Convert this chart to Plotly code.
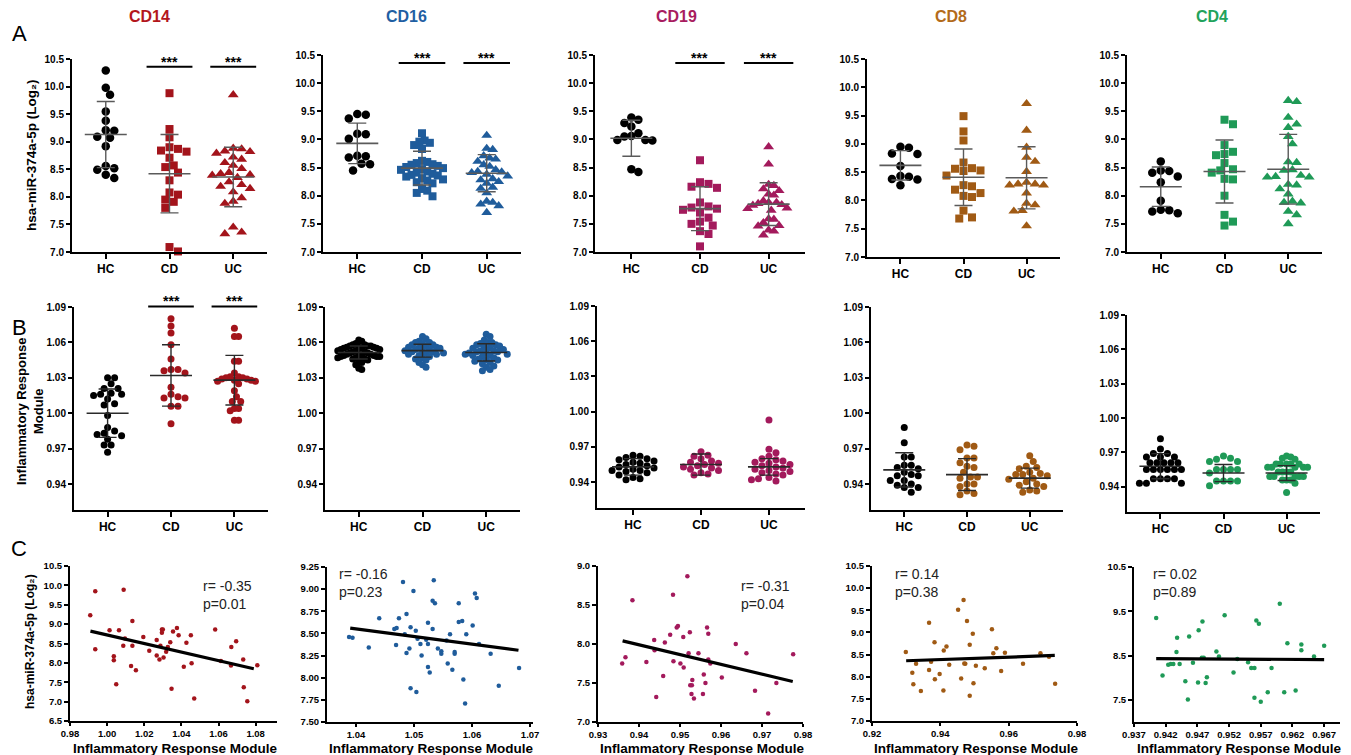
import numpy as np
import plotly.graph_objects as go

W, H = 1351, 755

cells = ["CD14", "CD16", "CD19", "CD8", "CD4"]
groups = ["HC", "CD", "UC"]
cell_colors = {"CD14": "#A3141B", "CD16": "#1F5C9B", "CD19": "#A31A5C", "CD8": "#A05A14", "CD4": "#1F9A57"}
title_colors = {"CD14": "#B3161C", "CD16": "#1F5FA3", "CD19": "#A81C60", "CD8": "#B36B1A", "CD4": "#22A35C"}

# ---------------- Row A : hsa-miR-374a-5p (Log2) ----------------
A_CD14_HC = [10.29, 9.98, 9.85, 9.55, 9.38, 9.21, 9.20, 9.09, 9.07, 8.92, 8.56, 8.52, 8.49, 8.40, 8.34]
A_CD14_CD = [9.88, 9.23, 9.08, 8.90, 8.87, 8.84, 8.82, 8.71, 8.57, 8.54, 8.44, 8.30, 8.08, 8.04, 7.95, 7.91, 7.80, 7.09, 7.01]
A_CD14_UC = [9.85, 8.88, 8.87, 8.83, 8.82, 8.79, 8.72, 8.68, 8.62, 8.57, 8.51, 8.44, 8.42, 8.40, 8.39, 8.35, 8.27,
             8.22, 8.19, 8.15, 8.09, 7.98, 7.92, 7.88, 7.45, 7.36, 7.33]
A_CD16_HC = [9.45, 9.44, 9.37, 9.10, 9.09, 9.01, 8.71, 8.70, 8.68, 8.57, 8.56, 8.45]
A_CD16_CD = [9.11, 8.98, 8.96, 8.94, 8.90, 8.83, 8.62, 8.60, 8.58, 8.56, 8.55, 8.53, 8.51, 8.49, 8.47, 8.46, 8.43,
             8.41, 8.39, 8.37, 8.36, 8.34, 8.31, 8.29, 8.27, 8.24, 8.22, 8.12, 8.09, 8.05, 7.99]
A_CD16_UC = [9.07, 8.84, 8.82, 8.71, 8.67, 8.65, 8.61, 8.55, 8.52, 8.46, 8.43, 8.42, 8.41, 8.38, 8.35, 8.30, 8.28,
             8.25, 8.22, 8.15, 8.13, 8.05, 7.90, 7.88, 7.85, 7.82, 7.70]
A_CD19_HC = [9.39, 9.35, 9.29, 9.23, 9.11, 9.06, 9.05, 8.99, 8.99, 8.98, 8.47, 8.42]
A_CD19_CD = [8.63, 8.24, 8.21, 8.16, 8.14, 7.88, 7.81, 7.79, 7.77, 7.75, 7.70, 7.61, 7.54, 7.50, 7.47, 7.37, 7.32, 7.10]
A_CD19_UC = [8.87, 8.56, 8.20, 8.18, 8.12, 8.09, 8.03, 8.01, 7.91, 7.88, 7.88, 7.86, 7.84, 7.83, 7.78, 7.77, 7.74,
             7.59, 7.58, 7.52, 7.47, 7.46, 7.39, 7.37, 7.30]
A_CD8_HC = [8.95, 8.93, 8.83, 8.82, 8.61, 8.43, 8.42, 8.38, 8.37, 8.27]
A_CD8_CD = [9.49, 9.22, 9.06, 8.67, 8.57, 8.56, 8.53, 8.52, 8.44, 8.27, 8.25, 8.19, 8.13, 8.08, 8.06, 7.82, 7.70, 7.68]
A_CD8_UC = [9.71, 9.24, 8.94, 8.76, 8.69, 8.51, 8.32, 8.29, 8.29, 8.27, 8.27, 8.13, 7.95, 7.92, 7.82, 7.81, 7.55]
A_CD4_HC = [8.61, 8.45, 8.44, 8.41, 8.34, 8.24, 7.91, 7.75, 7.74, 7.72, 7.69]
A_CD4_CD = [9.35, 9.27, 8.90, 8.78, 8.74, 8.72, 8.58, 8.47, 8.45, 8.41, 8.30, 8.29, 8.00, 7.66, 7.54, 7.47]
A_CD4_UC = [9.69, 9.67, 9.39, 9.27, 9.21, 9.05, 8.92, 8.60, 8.59, 8.46, 8.45, 8.36, 8.34, 8.33, 8.33, 8.20, 8.19,
            8.12, 8.03, 7.90, 7.88, 7.87, 7.72, 7.66, 7.50]

A_MEAN = {"CD14": [9.13, 8.42, 8.36], "CD16": [8.93, 8.49, 8.40], "CD19": [9.02, 7.77, 7.85],
          "CD8": [8.62, 8.41, 8.40], "CD4": [8.16, 8.43, 8.47]}
A_SD = {"CD14": [0.60, 0.71, 0.54], "CD16": [0.36, 0.30, 0.33], "CD19": [0.32, 0.39, 0.38],
        "CD8": [0.26, 0.50, 0.55], "CD4": [0.35, 0.56, 0.62]}

# ---------------- Row B : Inflammatory Response Module ----------------
B_CD14_HC = [1.030, 1.030, 1.025, 1.021, 1.021, 1.017, 1.016, 1.016, 1.015, 1.012, 1.008, 1.007, 0.998, 0.988,
             0.985, 0.983, 0.982, 0.981, 0.978, 0.973, 0.973, 0.967]
B_CD14_CD = [1.080, 1.074, 1.068, 1.058, 1.046, 1.037, 1.037, 1.036, 1.034, 1.022, 1.016, 1.014, 1.013, 1.013,
             1.006, 1.006, 0.991]
B_CD14_UC = [1.072, 1.065, 1.065, 1.044, 1.044, 1.034, 1.031, 1.031, 1.030, 1.030, 1.029, 1.029, 1.028, 1.028,
             1.027, 1.027, 1.025, 1.019, 1.014, 1.010, 1.010, 1.004, 1.004, 1.002, 0.994, 0.994]
B_CD16_HC = [1.062, 1.061, 1.059, 1.058, 1.058, 1.057, 1.057, 1.057, 1.056, 1.056, 1.056, 1.055, 1.055, 1.055,
             1.054, 1.054, 1.053, 1.053, 1.052, 1.052, 1.051, 1.051, 1.050, 1.050, 1.050, 1.049, 1.049, 1.049,
             1.048, 1.048, 1.048, 1.047, 1.047, 1.046, 1.046, 1.045, 1.044, 1.043, 1.041, 1.038, 1.037]
B_CD16_CD = [1.065, 1.063, 1.061, 1.060, 1.060, 1.059, 1.058, 1.058, 1.057, 1.056, 1.056, 1.055, 1.055, 1.054,
             1.054, 1.053, 1.053, 1.052, 1.052, 1.051, 1.051, 1.050, 1.050, 1.049, 1.048, 1.047, 1.046, 1.045,
             1.043, 1.041, 1.039]
B_CD16_UC = [1.067, 1.065, 1.062, 1.060, 1.060, 1.059, 1.058, 1.058, 1.057, 1.056, 1.055, 1.055, 1.054, 1.053,
             1.053, 1.052, 1.052, 1.051, 1.051, 1.050, 1.050, 1.049, 1.049, 1.048, 1.047, 1.046, 1.045, 1.045,
             1.044, 1.043, 1.042, 1.040, 1.039, 1.037, 1.036]
B_CD19_HC = [0.963, 0.962, 0.961, 0.960, 0.959, 0.958, 0.957, 0.956, 0.955, 0.954, 0.953, 0.952, 0.951, 0.950,
             0.950, 0.949, 0.948, 0.946, 0.944, 0.943, 0.942]
B_CD19_CD = [0.966, 0.963, 0.962, 0.960, 0.958, 0.957, 0.956, 0.955, 0.954, 0.953, 0.952, 0.951, 0.950, 0.948,
             0.947, 0.946]
B_CD19_UC = [0.993, 0.968, 0.965, 0.962, 0.960, 0.959, 0.958, 0.957, 0.956, 0.955, 0.954, 0.953, 0.952, 0.951,
             0.950, 0.949, 0.948, 0.947, 0.946, 0.944, 0.943, 0.942, 0.941]
B_CD8_HC = [0.988, 0.975, 0.963, 0.963, 0.956, 0.956, 0.954, 0.953, 0.950, 0.948, 0.947, 0.947, 0.943, 0.943,
            0.940, 0.939, 0.937, 0.937, 0.933]
B_CD8_CD = [0.973, 0.972, 0.969, 0.962, 0.962, 0.958, 0.955, 0.954, 0.950, 0.946, 0.946, 0.945, 0.940, 0.940,
            0.938, 0.934, 0.932, 0.931]
B_CD8_UC = [0.964, 0.959, 0.955, 0.954, 0.953, 0.950, 0.949, 0.948, 0.948, 0.947, 0.945, 0.944, 0.942, 0.940,
            0.939, 0.938, 0.935, 0.934, 0.933]
B_CD4_HC = [0.982, 0.973, 0.969, 0.969, 0.966, 0.966, 0.966, 0.961, 0.961, 0.961, 0.961, 0.961, 0.955, 0.955,
            0.955, 0.955, 0.955, 0.955, 0.947, 0.947, 0.947, 0.947, 0.943, 0.943, 0.943]
B_CD4_CD = [0.967, 0.965, 0.964, 0.962, 0.962, 0.955, 0.955, 0.955, 0.955, 0.952, 0.945, 0.945, 0.945, 0.945, 0.941]
B_CD4_UC = [0.967, 0.966, 0.965, 0.964, 0.960, 0.960, 0.960, 0.960, 0.960, 0.957, 0.957, 0.957, 0.957, 0.957,
            0.953, 0.953, 0.953, 0.953, 0.949, 0.949, 0.949, 0.949, 0.949, 0.946, 0.946, 0.946, 0.943, 0.935]

B_MEAN = {"CD14": [1.000, 1.032, 1.028], "CD16": [1.0514, 1.053, 1.0515], "CD19": [0.953, 0.955, 0.953],
          "CD8": [0.952, 0.948, 0.945], "CD4": [0.958, 0.952, 0.952]}
B_SD = {"CD14": [0.0205, 0.026, 0.021], "CD16": [0.0055, 0.0055, 0.0073], "CD19": [0.007, 0.009, 0.007],
        "CD8": [0.0145, 0.0135, 0.0085], "CD4": [0.011, 0.0075, 0.0065]}

# ---------------- Row C : correlation scatter ----------------
C_CD14_X = [0.9909, 0.9936, 0.9936, 1.0013, 1.0036, 1.0036, 1.0049, 1.0064, 1.0089, 1.0087, 1.0096, 1.0129, 1.0136,
            1.0136, 1.0155, 1.0195, 1.0227, 1.0267, 1.0267, 1.0282, 1.0287, 1.0295, 1.0295, 1.0300, 1.0304, 1.0318,
            1.0327, 1.0340, 1.0347, 1.0355, 1.0376, 1.0385, 1.0413, 1.0427, 1.0451, 1.0455, 1.0469, 1.0582, 1.0613,
            1.0667, 1.0669, 1.0695, 1.0733, 1.0736, 1.0755, 1.0809]
C_CD14_Y = [9.23, 9.85, 8.35, 8.84, 8.17, 8.07, 7.45, 8.84, 9.89, 8.44, 8.63, 7.92, 9.08, 8.44, 7.81, 8.67, 8.31, 8.59,
            8.19, 8.09, 8.44, 8.86, 8.78, 8.86, 8.14, 8.29, 8.41, 8.53, 7.33, 8.81, 8.90, 8.71, 7.90, 8.52, 8.71, 7.99,
            7.08, 8.86, 8.05, 7.93, 8.41, 8.56, 8.09, 7.37, 7.01, 7.94]
C_CD16_X = [1.0388, 1.0394, 1.0422, 1.0440, 1.0466, 1.0469, 1.0470, 1.0474, 1.0481, 1.0484, 1.0487, 1.0487, 1.0492,
            1.0494, 1.0494, 1.0499, 1.0503, 1.0504, 1.0506, 1.0511, 1.0513, 1.0521, 1.0524, 1.0524, 1.0524, 1.0527,
            1.0532, 1.0532, 1.0534, 1.0536, 1.0541, 1.0547, 1.0547, 1.0556, 1.0558, 1.0562, 1.0566, 1.0570, 1.0570,
            1.0577, 1.0577, 1.0583, 1.0585, 1.0588, 1.0590, 1.0601, 1.0605, 1.0608, 1.0612, 1.0632, 1.0646, 1.0681]
C_CD16_Y = [8.46, 8.45, 8.34, 8.67, 8.55, 8.37, 8.56, 8.67, 9.08, 8.49, 8.72, 8.28, 8.33, 8.57, 7.88, 8.98, 8.53, 7.84,
            8.44, 8.38, 8.25, 8.43, 8.62, 8.12, 8.38, 8.06, 8.55, 8.87, 9.10, 8.84, 8.33, 8.30, 8.27, 8.42, 8.16, 8.49,
            8.09, 8.29, 8.27, 8.84, 8.63, 8.64, 7.98, 7.71, 8.49, 8.59, 8.95, 8.90, 8.38, 8.27, 7.91, 8.11]
C_CD19_X = [0.9359, 0.9367, 0.9384, 0.9418, 0.9437, 0.9438, 0.9442, 0.9459, 0.9463, 0.9476, 0.9483, 0.9484, 0.9492,
            0.9495, 0.9501, 0.9508, 0.9509, 0.9518, 0.9521, 0.9524, 0.9525, 0.9528, 0.9529, 0.9530, 0.9534, 0.9545,
            0.9556, 0.9558, 0.9562, 0.9566, 0.9569, 0.9569, 0.9574, 0.9602, 0.9636, 0.9662, 0.9683, 0.9715, 0.9735,
            0.9776]
C_CD19_Y = [7.75, 7.83, 8.56, 7.77, 8.05, 7.92, 7.32, 7.59, 8.02, 8.12, 8.63, 7.78, 8.21, 8.23, 7.75, 8.09, 7.70, 8.87,
            7.88, 8.15, 7.47, 7.36, 7.47, 7.54, 7.30, 7.88, 7.36, 7.61, 7.50, 8.21, 8.13, 7.80, 7.75, 7.57, 8.00, 7.88,
            7.40, 7.11, 7.50, 7.87]
C_CD8_X = [0.9299, 0.9318, 0.9321, 0.9329, 0.9343, 0.9367, 0.9367, 0.9373, 0.9383, 0.9384, 0.9398, 0.9410, 0.9409,
           0.9418, 0.9426, 0.9452, 0.9461, 0.9468, 0.9470, 0.9473, 0.9478, 0.9486, 0.9486, 0.9495, 0.9497, 0.9504,
           0.9530, 0.9551, 0.9555, 0.9564, 0.9578, 0.9589, 0.9642, 0.9693, 0.9718, 0.9736]
C_CD8_Y = [8.56, 8.09, 7.83, 8.29, 7.68, 9.22, 8.15, 8.34, 8.78, 7.94, 8.06, 8.59, 7.69, 8.68, 8.27, 9.51, 7.96, 9.73,
           8.30, 8.29, 9.26, 8.72, 7.57, 8.97, 7.85, 8.25, 8.19, 9.07, 8.53, 8.64, 8.13, 8.54, 8.29, 8.53, 8.45, 7.84]
C_CD4_X = [0.9405, 0.9415, 0.9424, 0.9428, 0.9432, 0.9437, 0.9438, 0.9442, 0.9451, 0.9455, 0.9457, 0.9463, 0.9472,
           0.9471, 0.9477, 0.9478, 0.9480, 0.9483, 0.9485, 0.9500, 0.9504, 0.9513, 0.9527, 0.9533, 0.9550, 0.9555,
           0.9560, 0.9560, 0.9563, 0.9567, 0.9570, 0.9581, 0.9587, 0.9600, 0.9607, 0.9612, 0.9625, 0.9634, 0.9634,
           0.9654, 0.9670]
C_CD4_Y = [9.35, 8.05, 8.29, 8.31, 8.31, 8.58, 8.90, 8.31, 7.92, 7.51, 8.93, 8.34, 9.07, 7.89, 8.45, 9.27, 8.45, 7.88,
           8.01, 8.59, 8.48, 9.41, 8.12, 8.42, 8.35, 8.22, 8.22, 7.55, 9.29, 9.22, 7.46, 7.67, 8.22, 9.67, 7.67, 8.78,
           7.71, 8.75, 8.62, 8.48, 8.72]

# regression line end points
FIT_X = {"CD14": [0.991, 1.079], "CD16": [1.039, 1.068], "CD19": [0.936, 0.9775], "CD8": [0.930, 0.9735],
         "CD4": [0.9405, 0.967]}
FIT_Y = {"CD14": [8.82, 7.85], "CD16": [8.56, 8.31], "CD19": [8.04, 7.52], "CD8": [8.36, 8.48], "CD4": [8.43, 8.41]}
R_TEXT = {"CD14": "r= -0.35", "CD16": "r= -0.16", "CD19": "r= -0.31", "CD8": "r= 0.14", "CD4": "r= 0.02"}
P_TEXT = {"CD14": "p=0.01", "CD16": "p=0.23", "CD19": "p=0.04", "CD8": "p=0.38", "CD4": "p=0.89"}

A_DATA = {"CD14": [A_CD14_HC, A_CD14_CD, A_CD14_UC], "CD16": [A_CD16_HC, A_CD16_CD, A_CD16_UC],
          "CD19": [A_CD19_HC, A_CD19_CD, A_CD19_UC], "CD8": [A_CD8_HC, A_CD8_CD, A_CD8_UC],
          "CD4": [A_CD4_HC, A_CD4_CD, A_CD4_UC]}
B_DATA = {"CD14": [B_CD14_HC, B_CD14_CD, B_CD14_UC], "CD16": [B_CD16_HC, B_CD16_CD, B_CD16_UC],
          "CD19": [B_CD19_HC, B_CD19_CD, B_CD19_UC], "CD8": [B_CD8_HC, B_CD8_CD, B_CD8_UC],
          "CD4": [B_CD4_HC, B_CD4_CD, B_CD4_UC]}
C_DATA = {"CD14": (C_CD14_X, C_CD14_Y), "CD16": (C_CD16_X, C_CD16_Y), "CD19": (C_CD19_X, C_CD19_Y),
          "CD8": (C_CD8_X, C_CD8_Y), "CD4": (C_CD4_X, C_CD4_Y)}

# ---------------- layout geometry (pixel boxes: x0, x1, y0(top), y1(bottom)) ----------------
A_BOX = {"CD14": (72, 267, 59, 252), "CD16": (323, 521, 55, 252), "CD19": (595, 805, 55, 252),
         "CD8": (867, 1060, 59, 257), "CD4": (1127, 1322, 55, 252)}
B_BOX = {"CD14": (74, 268, 307, 510), "CD16": (325, 520, 307, 510), "CD19": (597, 805, 306, 508),
         "CD8": (871, 1063, 307, 510), "CD4": (1127, 1320, 315, 512)}
C_BOX = {"CD14": (70, 277, 566, 721), "CD16": (327, 533, 567, 722), "CD19": (598, 803, 566, 722),
         "CD8": (872, 1077, 566, 721), "CD4": (1134, 1340, 567, 722)}
C_XRANGE = {"CD14": [0.98, 1.0915], "CD16": [1.035, 1.0705], "CD19": [0.93, 0.98], "CD8": [0.92, 0.98],
            "CD4": [0.937, 0.9695]}
C_XTICKS = {"CD14": [0.98, 1.00, 1.02, 1.04, 1.06, 1.08], "CD16": [1.04, 1.05, 1.06, 1.07],
            "CD19": [0.93, 0.94, 0.95, 0.96, 0.97, 0.98], "CD8": [0.92, 0.94, 0.96, 0.98],
            "CD4": [0.937, 0.942, 0.947, 0.952, 0.957, 0.962, 0.967]}
C_XFMT = {"CD14": ".2f", "CD16": ".2f", "CD19": ".2f", "CD8": ".2f", "CD4": ".3f"}
C_YRANGE = {"CD14": [6.5, 10.5], "CD16": [7.5, 9.25], "CD19": [7.0, 9.0], "CD8": [7.0, 10.5], "CD4": [7.0, 10.5]}
C_YTICKS = {"CD14": [6.5, 7.0, 7.5, 8.0, 8.5, 9.0, 9.5, 10.0, 10.5],
            "CD16": [7.5, 7.75, 8.0, 8.25, 8.5, 8.75, 9.0, 9.25],
            "CD19": [7.0, 7.5, 8.0, 8.5, 9.0], "CD8": [7.0, 7.5, 8.0, 8.5, 9.0, 9.5, 10.0, 10.5],
            "CD4": [7.5, 8.5, 9.5, 10.5]}
C_YFMT = {"CD14": ".1f", "CD16": ".2f", "CD19": ".1f", "CD8": ".1f", "CD4": ".1f"}
TEXT_POS = {"CD14": (201, 576), "CD16": (337, 564), "CD19": (739, 576), "CD8": (893, 564), "CD4": (1151, 564)}
TITLE_X = {"CD14": 149, "CD16": 406, "CD19": 677, "CD8": 951, "CD4": 1212}

A_YRANGE = [7.0, 10.5]
A_YTICKS = [7.0, 7.5, 8.0, 8.5, 9.0, 9.5, 10.0, 10.5]
B_YRANGE = [0.918, 1.09]
B_YTICKS = [0.94, 0.97, 1.00, 1.03, 1.06, 1.09]
CAT_RANGE = [-0.53, 2.53]

SIG_A = ["CD14", "CD16", "CD19"]
SIG_A_LEVEL = 10.36
SIG_B = ["CD14"]
SIG_B_LEVEL = 1.0905

BOLD = dict(family="Arial, Liberation Sans, sans-serif", weight="bold", color="black")
MAX_HALF_PX = 21
MIR_TITLE = "hsa-miR-374a-5p (Log\u2082)"


def xd(p):
    return p / W


def yd(p):
    return 1 - p / H


def swarm(vals, diam, ppu_y, ppu_x, pack=0.9):
    vals = np.asarray(vals, float)
    ypx = vals * ppu_y
    order = np.argsort(-vals, kind="stable")
    placed = []
    offs = np.zeros(len(vals))
    step = diam * 0.5
    cands = [0.0]
    for m in range(1, 60):
        cands += [m * step, -m * step]
    for i in order:
        chosen = 0.0
        for c in cands:
            if all((c - px) ** 2 + (ypx[i] - py) ** 2 >= (diam * pack) ** 2 for px, py in placed):
                chosen = c
                break
        placed.append((chosen, ypx[i]))
        offs[i] = chosen
    m = np.abs(offs).max() if len(offs) else 0
    if m > MAX_HALF_PX:
        offs = offs * MAX_HALF_PX / m
    return offs / ppu_x


fig = go.Figure()
layout = {}
annotations = []
shapes = []
idx = [0]


def new_axes(box, xr, yr):
    idx[0] += 1
    i = idx[0]
    xa = "xaxis" if i == 1 else f"xaxis{i}"
    ya = "yaxis" if i == 1 else f"yaxis{i}"
    xr_ = "x" if i == 1 else f"x{i}"
    yr_ = "y" if i == 1 else f"y{i}"
    x0, x1, y0, y1 = box
    common = dict(showline=True, linewidth=2, linecolor="black", ticks="outside", tickwidth=1.5,
                  tickcolor="black", showgrid=False, zeroline=False, fixedrange=True, automargin=False)
    layout[xa] = dict(domain=[xd(x0), xd(x1)], range=xr, anchor=yr_, **common)
    layout[ya] = dict(domain=[yd(y1), yd(y0)], range=yr, anchor=xr_, **common)
    return xa, ya, xr_, yr_


def data_to_px(box, xr, yr, x, y):
    x0, x1, y0, y1 = box
    px = x0 + (x - xr[0]) / (xr[1] - xr[0]) * (x1 - x0)
    py = y1 - (y - yr[0]) / (yr[1] - yr[0]) * (y1 - y0)
    return px, py


def sig_marks(box, yr, level):
    for g in (1, 2):
        pxa, py = data_to_px(box, CAT_RANGE, yr, g - 0.36, level)
        pxb, _ = data_to_px(box, CAT_RANGE, yr, g + 0.36, level)
        pxc, _ = data_to_px(box, CAT_RANGE, yr, g, level)
        shapes.append(dict(type="line", xref="paper", yref="paper", x0=xd(pxa), x1=xd(pxb), y0=yd(py), y1=yd(py),
                           line=dict(color="black", width=2)))
        annotations.append(dict(xref="paper", yref="paper", x=xd(pxc), y=yd(py), text="***", showarrow=False,
                                xanchor="center", yanchor="bottom", yshift=-5, font=dict(size=14, **BOLD)))


def dot_panel(cell, box, data, means, sds, yr, yticks, yfmt, row):
    xa, ya, xr_, yr_ = new_axes(box, CAT_RANGE, yr)
    x0, x1, y0, y1 = box
    ppu_x = (x1 - x0) / (CAT_RANGE[1] - CAT_RANGE[0])
    ppu_y = (y1 - y0) / (yr[1] - yr[0])
    layout[xa].update(tickvals=[0, 1, 2], ticktext=groups, ticklen=5,
                      tickfont=dict(size=12, **BOLD))
    layout[ya].update(tickvals=yticks, ticktext=[format(v, yfmt) for v in yticks], ticklen=4,
                      tickfont=dict(size=10, **BOLD))
    for g, vals in enumerate(data):
        col = "black" if g == 0 else cell_colors[cell]
        if row == "A":
            sym = ["circle", "square", "triangle-up"][g]
            size = [8.5, 8, 9.5][g]
            diam = 8.5
            pack = 0.95
        else:
            sym = "circle"
            size = 7
            diam = 7
            pack = 0.9
        xs = g + swarm(vals, diam, ppu_y, ppu_x, pack)
        fig.add_trace(go.Scatter(x=xs, y=vals, mode="markers", xaxis=xr_, yaxis=yr_, cliponaxis=False,
                                 marker=dict(symbol=sym, size=size, color=col, line=dict(width=0)),
                                 hoverinfo="y"))
    lc = "#5a5a5a" if row == "A" else "#2a2a2a"
    fig.add_trace(go.Scatter(x=[0, 1, 2], y=means, mode="markers", xaxis=xr_, yaxis=yr_, cliponaxis=False,
                             marker=dict(symbol="line-ew", size=30, line=dict(width=1.6, color=lc)),
                             error_y=dict(type="data", array=sds, visible=True, width=9, thickness=1.4, color=lc),
                             hoverinfo="y"))
    return xa, ya, xr_, yr_


for c in cells:
    dot_panel(c, A_BOX[c], A_DATA[c], A_MEAN[c], A_SD[c], A_YRANGE, A_YTICKS, ".1f", "A")
    if c in SIG_A:
        sig_marks(A_BOX[c], A_YRANGE, SIG_A_LEVEL)

for c in cells:
    dot_panel(c, B_BOX[c], B_DATA[c], B_MEAN[c], B_SD[c], B_YRANGE, B_YTICKS, ".2f", "B")
    if c in SIG_B:
        sig_marks(B_BOX[c], B_YRANGE, SIG_B_LEVEL)

for c in cells:
    xa, ya, xr_, yr_ = new_axes(C_BOX[c], C_XRANGE[c], C_YRANGE[c])
    layout[xa].update(tickvals=C_XTICKS[c], ticktext=[format(v, C_XFMT[c]) for v in C_XTICKS[c]], ticklen=3,
                      tickfont=dict(size=9.5, **BOLD))
    layout[ya].update(tickvals=C_YTICKS[c], ticktext=[format(v, C_YFMT[c]) for v in C_YTICKS[c]], ticklen=4,
                      tickfont=dict(size=9.5, **BOLD))
    xs, ys = C_DATA[c]
    fig.add_trace(go.Scatter(x=xs, y=ys, mode="markers", xaxis=xr_, yaxis=yr_, cliponaxis=False,
                             marker=dict(size=4.5, color=cell_colors[c], line=dict(width=0))))
    fig.add_trace(go.Scatter(x=FIT_X[c], y=FIT_Y[c], mode="lines", xaxis=xr_, yaxis=yr_,
                             line=dict(color="black", width=3.2)))
    tx, ty = TEXT_POS[c]
    annotations.append(dict(xref="paper", yref="paper", x=xd(tx), y=yd(ty), xanchor="left", yanchor="top",
                            text=R_TEXT[c] + "<br>" + P_TEXT[c], showarrow=False, align="left",
                            font=dict(family="Arial, Liberation Sans, sans-serif", size=14, color="#222")))
    x0, x1, y0, y1 = C_BOX[c]
    annotations.append(dict(xref="paper", yref="paper", x=xd((x0 + x1) / 2 + 2), y=yd(757), xanchor="center",
                            yanchor="bottom", text="Inflammatory Response Module", showarrow=False,
                            borderpad=0, font=dict(size=13.5, **BOLD)))

# column titles
for c in cells:
    annotations.append(dict(xref="paper", yref="paper", x=xd(TITLE_X[c]), y=yd(17), text=c, showarrow=False,
                            xanchor="center", yanchor="middle",
                            font=dict(family="Arial, Liberation Sans, sans-serif", size=16, weight="bold",
                                      color=title_colors[c])))
# panel letters
for letter, py in (("A", 33), ("B", 327), ("C", 548)):
    annotations.append(dict(xref="paper", yref="paper", x=xd(19), y=yd(py), text=letter, showarrow=False,
                            xanchor="center", yanchor="middle",
                            font=dict(family="Arial, Liberation Sans, sans-serif", size=22, color="black")))
# y-axis titles
annotations.append(dict(xref="paper", yref="paper", x=xd(32), y=yd(155), textangle=-90,
                        text=MIR_TITLE, showarrow=False,
                        xanchor="center", yanchor="middle", font=dict(size=13.5, **BOLD)))
annotations.append(dict(xref="paper", yref="paper", x=xd(30), y=yd(412), textangle=-90,
                        text="Inflammatory Response<br>Module", showarrow=False,
                        xanchor="center", yanchor="middle", font=dict(size=13, **BOLD)))
annotations.append(dict(xref="paper", yref="paper", x=xd(30), y=yd(642), textangle=-90,
                        text=MIR_TITLE, showarrow=False,
                        xanchor="center", yanchor="middle", font=dict(size=12, **BOLD)))

fig.update_layout(width=W, height=H, margin=dict(l=0, r=0, t=0, b=0, autoexpand=False), showlegend=False,
                  plot_bgcolor="white", paper_bgcolor="white", annotations=annotations, shapes=shapes,
                  **layout)
fig.write_html("out.html")
